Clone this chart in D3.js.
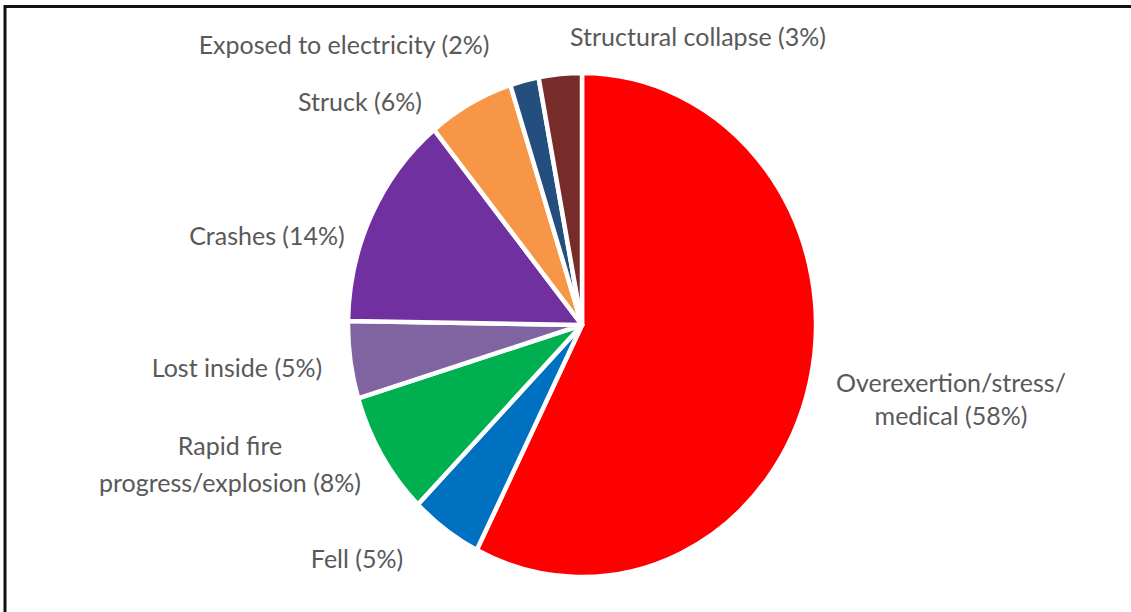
<!DOCTYPE html>
<html>
<head>
<meta charset="utf-8">
<script src="https://cdn.jsdelivr.net/npm/d3@7"></script>
<style>
  html, body { margin: 0; padding: 0; background: #ffffff; }
  svg { display: block; }
  text { font-family: Lato, "Open Sans", sans-serif; fill: #595959; }
</style>
</head>
<body>
<svg id="chart" width="1131" height="612"></svg>
<script>
// Firefighter fatal injuries by cause (share of deaths, %)
const categories = [
  "Overexertion/stress/medical",
  "Fell",
  "Rapid fire progress/explosion",
  "Lost inside",
  "Crashes",
  "Struck",
  "Exposed to electricity",
  "Structural collapse"
];
const shares = [58, 5, 8, 5, 14, 6, 2, 3];
const labelLines = [
  ["Overexertion/stress/", "medical (58%)"],
  ["Fell (5%)"],
  ["Rapid fire", "progress/explosion (8%)"],
  ["Lost inside (5%)"],
  ["Crashes (14%)"],
  ["Struck (6%)"],
  ["Exposed to electricity (2%)"],
  ["Structural collapse (3%)"]
];

// Slice colours
const sliceColors = ["#FF0000", "#0070C0", "#00B050", "#8064A2", "#7030A0", "#F79646", "#244E7D", "#772C2A"];

// Label anchors (centre x, first baseline y, line gap)
const labelLayout = [
  { x: 951, y: 392, gap: 33 },
  { x: 357, y: 568, gap: 0 },
  { x: 230, y: 455, gap: 37 },
  { x: 237, y: 377, gap: 0 },
  { x: 267, y: 245, gap: 0 },
  { x: 360, y: 111, gap: 0 },
  { x: 344, y: 54, gap: 0 },
  { x: 698, y: 46, gap: 0 }
];

const svg = d3.select("#chart");

// Frame (left and top edges visible)
svg.append("path")
  .attr("d", "M5,612 V6.5 H1131")
  .attr("fill", "none")
  .attr("stroke", "#111")
  .attr("stroke-width", 3);

const cx = 582, cy = 325, rx = 234, ry = 252;

const data = categories.map((c, i) => ({ category: c, value: shares[i], i }));

const pie = d3.pie()
  .value(d => d.value)
  .sort(null)
  .startAngle(0)
  .endAngle(2 * Math.PI);

const arc = d3.arc().innerRadius(0).outerRadius(rx);

const color = d3.scaleOrdinal().domain(categories).range(sliceColors);

const g = svg.append("g")
  .attr("transform", `translate(${cx},${cy}) scale(1,${ry / rx})`);

g.selectAll("path.slice")
  .data(pie(data))
  .join("path")
  .attr("class", "slice")
  .attr("d", arc)
  .attr("fill", d => color(d.data.category))
  .attr("stroke", "#ffffff")
  .attr("stroke-width", 4.5)
  .attr("stroke-linejoin", "round")
  .attr("vector-effect", "non-scaling-stroke");

// Category labels
const labels = svg.append("g").attr("class", "labels");
data.forEach((d, i) => {
  const pos = labelLayout[i];
  const t = labels.append("text")
    .attr("text-anchor", "middle")
    .attr("font-size", 25);
  labelLines[i].forEach((line, k) => {
    t.append("tspan")
      .attr("x", pos.x)
      .attr("y", pos.y + k * pos.gap)
      .text(line);
  });
});
</script>
</body>
</html>
